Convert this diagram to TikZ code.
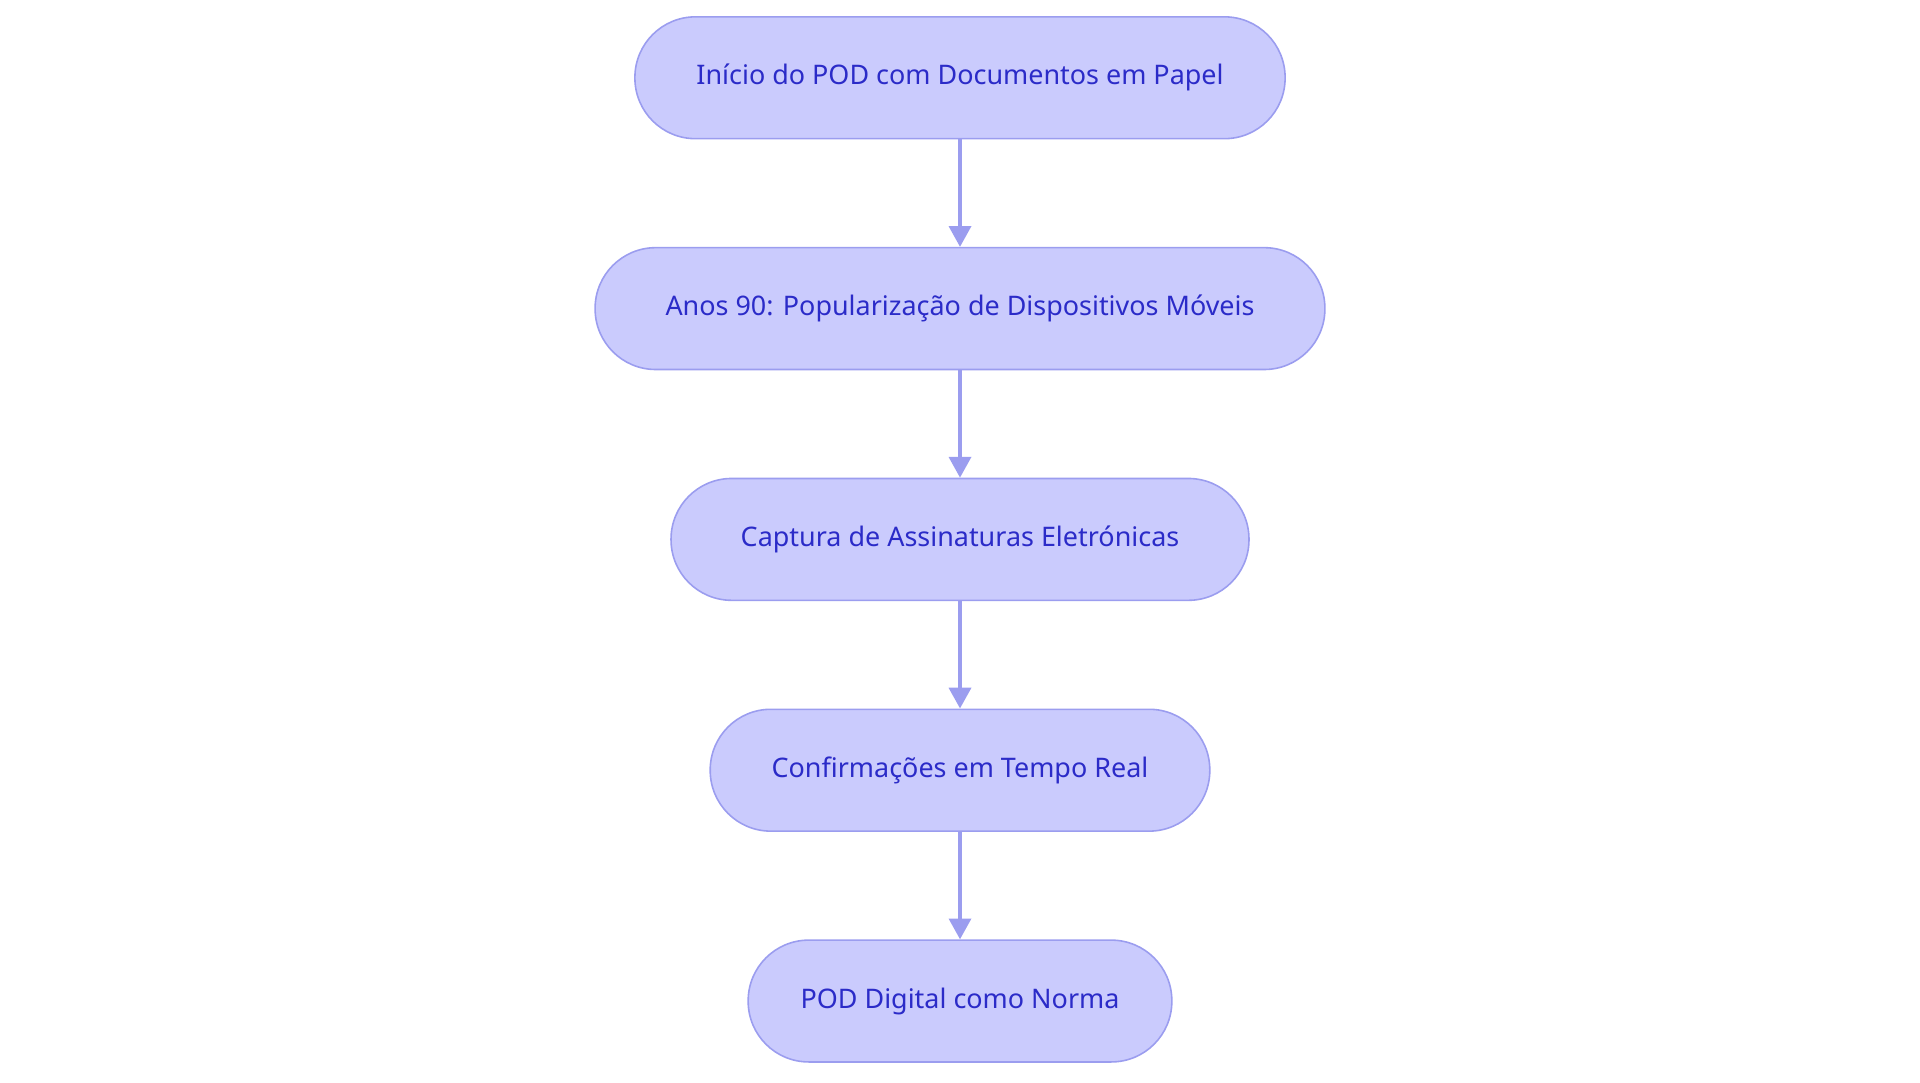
\documentclass[tikz,border=0pt]{standalone}
\usepackage{fontspec}
\setmainfont{Noto Sans}
\usetikzlibrary{arrows.meta}
\definecolor{nfill}{HTML}{CACBFD}
\definecolor{nline}{HTML}{9B9DEF}
\definecolor{ntext}{HTML}{2B2BC8}
\begin{document}
\begin{tikzpicture}[x=1pt,y=-1pt,
  box/.style={draw=nline,line width=1.3pt,fill=nfill,rounded corners=49.5pt,minimum height=99.5pt,text=ntext,font=\fontsize{22}{26}\selectfont,inner sep=0pt},
  arr/.style={draw=nline,line width=2.8pt,-{Triangle[length=17pt,width=18pt]}}]
\useasboundingbox (0,0) rectangle (1568,884);
\node[box,minimum width=531pt] (a) at (784,63.5) {Início do POD com Documentos em Papel};
\node[box,minimum width=596pt] (b) at (784,252) {Anos 90: Popularização de Dispositivos Móveis};
\node[box,minimum width=472pt] (c) at (784,440.5) {Captura de Assinaturas Eletrónicas};
\node[box,minimum width=408pt] (d) at (784,629) {Confirmações em Tempo Real};
\node[box,minimum width=346pt] (e) at (784,817.5) {POD Digital como Norma};
\draw[arr] (a) -- (b);
\draw[arr] (b) -- (c);
\draw[arr] (c) -- (d);
\draw[arr] (d) -- (e);
\end{tikzpicture}
\end{document}
